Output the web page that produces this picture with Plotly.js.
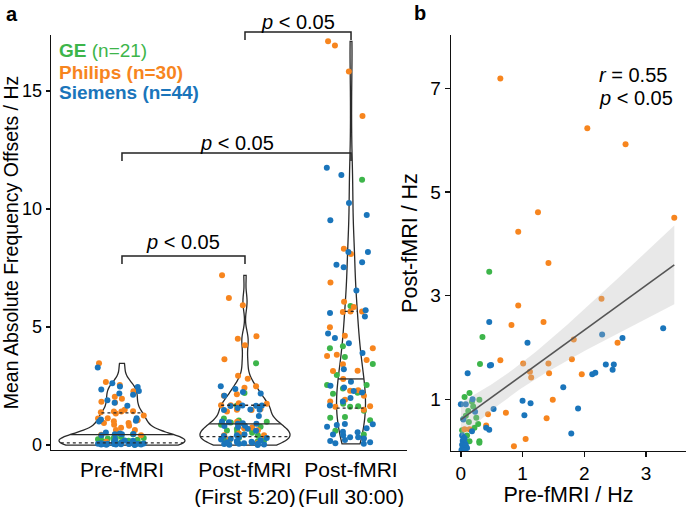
<!DOCTYPE html>
<html><head><meta charset="utf-8">
<script src="https://cdn.plot.ly/plotly-3.0.1.min.js"></script>
<style>html,body{margin:0;padding:0;background:#fff}#chart{width:686px;height:507px}</style>
</head><body><div id="chart"></div>
<script>
// ---------- data ----------
const groupLabels = ['Pre-fMRI', 'Post-fMRI<br>(First 5:20)', 'Post-fMRI<br>(Full 30:00)'];
const vendorNames = ['GE', 'Philips', 'Siemens'];
const vendorColors = ['#3db54a', '#f7851e', '#1a75bb'];

// GE (n=21): paired pre / post (first 5:20), and full 30:00
const preGE  = [0.46,0.35,0.31,0.14,0.06,0.30,0.12,0.13,0.28,0.14,0.30,0.30,0.04,0.08,0.20,0.10,0.05,0.22,0.18,0.02,0.25];
const postGE = [3.46,2.20,1.68,1.12,1.04,0.99,0.77,0.56,0.52,0.19,0.19,0.16,0.62,0.68,0.86,0.30,0.22,0.45,0.95,0.40,0.64];
const fullGE = [11.24,5.89,4.19,4.10,3.73,3.43,2.97,2.54,2.54,2.40,2.22,2.17,1.75,1.64,1.62,1.45,1.19,1.16,0.61,1.05,0.45];

// Philips (n=30)
const prePhilips  = [0.64,2.05,2.67,1.25,0.93,3.46,1.42,2.28,0.93,0.82,1.34,2.54,1.83,0.64,1.01,1.42,1.80,1.12,1.14,1.43,1.96,1.49,0.73,0.44,1.39,0.06,0.14,0.41,1.05,0.86];
const postPhilips = [7.19,6.23,5.92,4.61,4.23,4.50,3.63,2.94,2.81,2.43,2.49,2.09,2.15,1.75,1.69,1.69,1.77,1.53,1.42,1.50,1.48,0.99,0.74,0.71,0.63,0.42,0.42,0.49,0.23,0.09];
const fullPhilips = [17.10,16.92,15.82,13.94,8.31,8.09,6.89,6.07,5.85,5.66,5.64,5.66,4.99,4.63,4.10,3.83,3.77,3.42,3.60,3.14,3.15,2.80,2.30,2.32,2.09,1.92,1.84,1.64,1.62,1.50];

// Siemens (n=44)
const preSiemens  = [0.46,3.28,1.08,2.29,2.62,0.47,0.49,0.11,2.13,2.18,2.35,2.48,2.46,1.66,0.19,0.00,0.08,1.00,1.13,0.23,0.53,1.03,1.90,0.04,0.41,0.46,0.18,1.79,0.02,0.04,0.06,0.03,0.05,0.07,0.02,0.04,0.06,0.03,0.05,0.01,0.08,0.10,0.02,0.06];
const postSiemens = [2.49,2.37,2.09,2.25,2.18,1.65,1.66,1.50,1.48,1.51,1.67,1.67,1.57,1.23,1.00,0.90,0.90,0.97,0.92,0.76,0.81,0.69,0.82,0.61,0.45,0.41,0.38,0.34,0.30,0.27,0.24,0.20,0.17,0.14,0.12,0.10,0.08,0.06,0.04,0.02,0.11,0.06,0.00,0.01];
const fullSiemens = [11.75,11.44,10.25,9.75,9.52,8.18,8.18,7.64,7.74,7.53,6.55,5.59,5.71,5.45,4.73,4.53,4.31,3.90,3.21,2.68,2.44,2.23,2.51,2.29,1.99,1.84,1.68,0.89,0.88,0.71,0.85,0.78,0.56,0.54,0.45,0.41,0.33,0.33,0.28,0.21,0.17,0.12,0.08,0.05];

const corrText = ['<i>r</i> = 0.55', '<i>p</i> < 0.05'];
const pText = '<i>p</i> < 0.05';

// ---------- layout constants ----------
const W = 686, H = 507;
const catPos = [1, 2, 2.862];
const px = v => v / W, py = v => 1 - v / H;
const FONT = 'Liberation Sans, Arial, Helvetica, sans-serif';
const INK = '#111';
const VLINE = '#2a2a2a';

const byVendor = [
  [preGE, postGE, fullGE],
  [prePhilips, postPhilips, fullPhilips],
  [preSiemens, postSiemens, fullSiemens]
];
const groupData = [0, 1, 2].map(g => byVendor[0][g].concat(byVendor[1][g], byVendor[2][g]));

// ---------- statistics helpers ----------
function q7(s, p) { const h = (s.length - 1) * p, lo = Math.floor(h); const hi = Math.min(lo + 1, s.length - 1); return s[lo] + (h - lo) * (s[hi] - s[lo]); }
function nrd0(vals) {
  const s = [...vals].sort((a, b) => a - b), n = s.length;
  const m = s.reduce((a, b) => a + b, 0) / n;
  const sd = Math.sqrt(s.reduce((a, b) => a + (b - m) ** 2, 0) / (n - 1));
  let lo = Math.min(sd, (q7(s, .75) - q7(s, .25)) / 1.34); if (!(lo > 0)) lo = sd;
  return 0.9 * lo * Math.pow(n, -0.2);
}
function dens(vals, bw, y) { let d = 0; for (const v of vals) { const z = (y - v) / bw; d += Math.exp(-0.5 * z * z); } return d / (vals.length * bw * Math.sqrt(2 * Math.PI)); }
const bws = groupData.map(nrd0);
const maxD = groupData.map((vals, g) => {
  const mn = Math.min(...vals), mx = Math.max(...vals); let best = 0;
  for (let i = 0; i <= 400; i++) best = Math.max(best, dens(vals, bws[g], mn + (mx - mn) * i / 400));
  return best;
});
const gMax = Math.max(...maxD);
const HALFW = 0.512;

const traces = [];
// violins (area-scaled like ggplot)
groupData.forEach((vals, g) => {
  traces.push({ type: 'violin', y: vals, x0: catPos[g], spanmode: 'hard', bandwidth: bws[g], scalemode: 'width',
    width: 2 * HALFW * maxD[g] / gMax, points: false, fillcolor: '#fff', line: { color: VLINE, width: 1.3 },
    box: { visible: false }, meanline: { visible: false }, hoverinfo: 'skip', xaxis: 'x', yaxis: 'y' });
});

// jittered points (library jitter, made uniform with very wide hidden box stats)
byVendor.forEach((vd, v) => {
  vd.forEach((vals, g) => {
    traces.push({ type: 'box', x: [catPos[g]], y: [vals], q1: [-1e4], median: [0], q3: [1e4], lowerfence: [-1e4], upperfence: [1e4],
      width: 0.4, boxpoints: 'all', jitter: 1, pointpos: 0,
      fillcolor: 'rgba(0,0,0,0)', line: { width: 0, color: 'rgba(0,0,0,0)' }, whiskerwidth: 0,
      marker: { color: vendorColors[v], size: 6 }, hoverinfo: 'skip', xaxis: 'x', yaxis: 'y' });
  });
});

// quartile lines (median solid, quartiles dotted)
groupData.forEach((vals, g) => {
  const s = [...vals].sort((a, b) => a - b);
  [0.25, 0.5, 0.75].forEach(q => {
    const yq = q7(s, q);
    const w = dens(vals, bws[g], yq) / gMax * HALFW;
    traces.push({ type: 'scatter', mode: 'lines', x: [catPos[g] - w, catPos[g] + w], y: [yq, yq],
      line: { color: VLINE, width: 1.3, dash: q === 0.5 ? 'solid' : 'dot' }, hoverinfo: 'skip', xaxis: 'x', yaxis: 'y' });
  });
});

// panel b scatter
byVendor.forEach((vd, v) => {
  traces.push({ type: 'scatter', mode: 'markers', x: vd[0], y: vd[1], marker: { color: vendorColors[v], size: 6 },
    hoverinfo: 'skip', xaxis: 'x2', yaxis: 'y2' });
});
// regression + 95% CI computed from the data
const X = groupData[0], Y = groupData[1], n = X.length;
const mx = X.reduce((a, b) => a + b, 0) / n, my = Y.reduce((a, b) => a + b, 0) / n;
let sxx = 0, sxy = 0; X.forEach((x, i) => { sxx += (x - mx) ** 2; sxy += (x - mx) * (Y[i] - my); });
const slope = sxy / sxx, icpt = my - slope * mx;
let sse = 0; X.forEach((x, i) => { sse += (Y[i] - icpt - slope * x) ** 2; });
const se = Math.sqrt(sse / (n - 2)), tq = 1.986;
const xmin = Math.min(...X), xmax = Math.max(...X);
const bx = [], bu = [], bl = [], by = [];
for (let i = 0; i <= 80; i++) {
  const x = xmin + (xmax - xmin) * i / 80, yh = icpt + slope * x;
  const h = tq * se * Math.sqrt(1 / n + (x - mx) ** 2 / sxx);
  bx.push(x); by.push(yh); bu.push(yh + h); bl.push(yh - h);
}
traces.push({ type: 'scatter', mode: 'lines', x: bx.concat([...bx].reverse()), y: bu.concat([...bl].reverse()), fill: 'toself',
  fillcolor: 'rgba(185,185,185,0.32)', line: { width: 0 }, hoverinfo: 'skip', xaxis: 'x2', yaxis: 'y2' });
traces.push({ type: 'scatter', mode: 'lines', x: bx, y: by, line: { color: '#555', width: 1.6 }, hoverinfo: 'skip', xaxis: 'x2', yaxis: 'y2' });

// ---------- annotations / shapes ----------
const ann = [];
const note = (o) => ann.push(Object.assign({ xref: 'paper', yref: 'paper', showarrow: false, xanchor: 'center', yanchor: 'middle' }, o));
note({ text: '<b>a</b>', x: px(12), y: py(14), font: { size: 20 } });
note({ text: '<b>b</b>', x: px(420), y: py(13), font: { size: 20 } });
const legendRows = ['<b>GE</b> (n=21)', '<b>Philips (n=30)</b>', '<b>Siemens (n=44)</b>'];
const legendY = [50, 72, 92];
legendRows.forEach((t, i) => note({ text: t, x: px(57), y: py(legendY[i]), xanchor: 'left', font: { size: 19, color: vendorColors[i] } }));
const brackets = [[0, 1, 256, 264, 242], [0, 2, 153, 161, 143], [1, 2, 32, 40, 22]];
const shapes = [];
brackets.forEach(([a, b, top, bot, ty]) => {
  shapes.push({ type: 'path', xref: 'x', yref: 'paper', line: { color: '#222', width: 1.5 },
    path: `M ${catPos[a]} ${py(bot)} L ${catPos[a]} ${py(top)} L ${catPos[b]} ${py(top)} L ${catPos[b]} ${py(bot)}` });
  note({ text: pText, x: (catPos[a] + catPos[b]) / 2, xref: 'x', y: py(ty), font: { size: 20 } });
});
corrText.forEach((t, i) => note({ text: t, x: px(597), y: py(75 + 23 * i), xanchor: 'left', font: { size: 20 } }));

const axBase = { showline: true, linecolor: INK, linewidth: 1.4, zeroline: false, showgrid: false, tickcolor: INK, tickwidth: 1.3, ticklen: 5, ticks: 'outside' };
const layout = {
  width: W, height: H, margin: { l: 0, r: 0, t: 0, b: 0 }, showlegend: false, boxmode: 'overlay', violinmode: 'overlay',
  paper_bgcolor: '#fff', plot_bgcolor: '#fff', font: { family: FONT, color: '#000', size: 18 },
  xaxis: Object.assign({}, axBase, { domain: [px(51), px(407)], range: [0.423, 3.317], tickvals: catPos, ticktext: groupLabels,
    ticks: '', tickfont: { size: 21 }, anchor: 'y' }),
  yaxis: Object.assign({}, axBase, { domain: [py(450), py(35)], range: [-0.21, 17.37], tickvals: [0, 5, 10, 15], ticklen: 4,
    tickfont: { size: 18 }, title: { text: 'Mean Absolute Frequency Offsets / Hz', font: { size: 19.5 }, standoff: 8 }, anchor: 'x' }),
  xaxis2: Object.assign({}, axBase, { domain: [px(451), 1], range: [-0.16, 3.65], tickvals: [0, 1, 2, 3], tickfont: { size: 19 },
    title: { text: 'Pre-fMRI / Hz', font: { size: 21.5 }, standoff: 6 }, anchor: 'y2' }),
  yaxis2: Object.assign({}, axBase, { domain: [py(451), py(35)], range: [0, 8.03], tickvals: [1, 3, 5, 7], tickfont: { size: 19 },
    title: { text: 'Post-fMRI / Hz', font: { size: 21.5 }, standoff: 6 }, anchor: 'x2' }),
  annotations: ann, shapes: shapes
};
Plotly.newPlot('chart', traces, layout, { displayModeBar: false, staticPlot: true });
</script></body></html>
